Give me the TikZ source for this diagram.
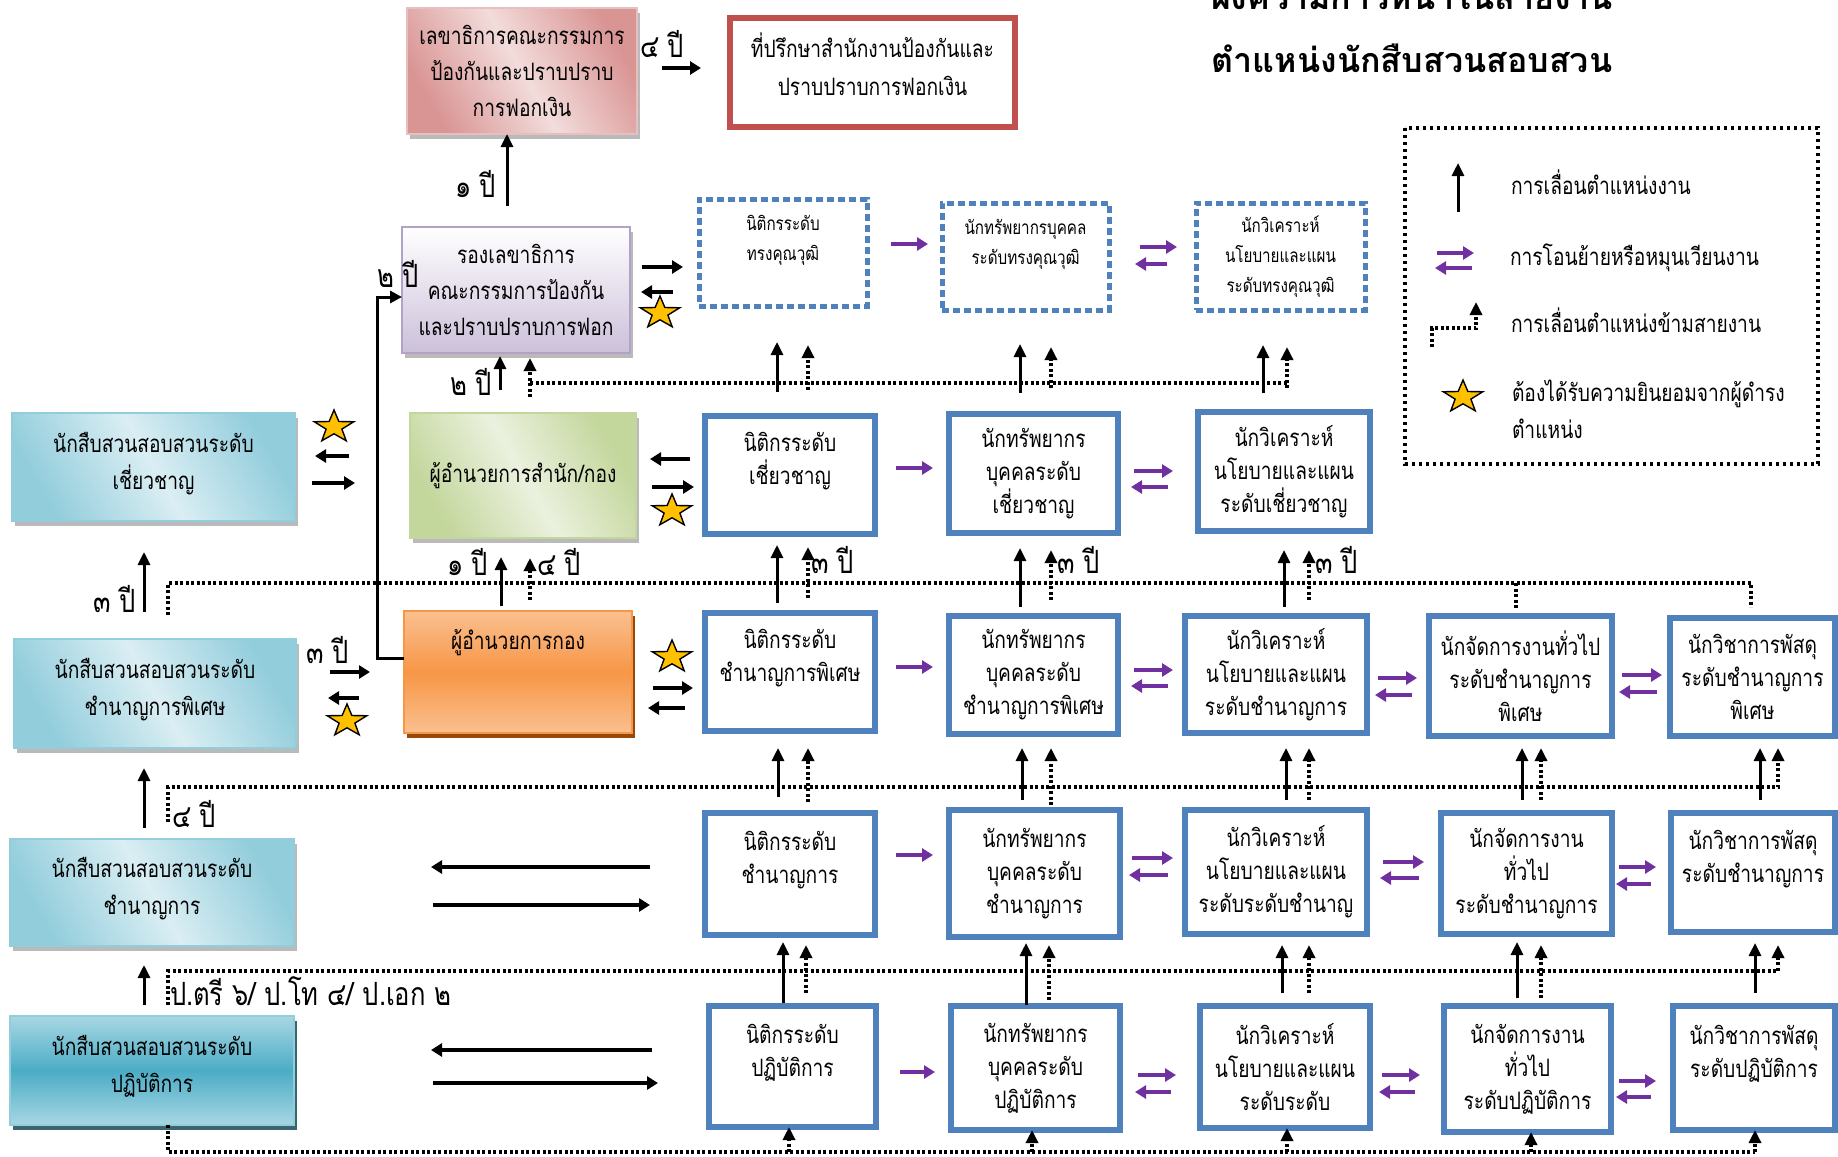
\documentclass[tikz,border=0pt]{standalone}
\usepackage{fontspec}
\usetikzlibrary{arrows.meta,shadows}
\newfontfamily\thaifont[Script=Thai,FakeStretch=0.8]{Loma}
\newfontfamily\thaititle[Script=Thai]{Loma}
\definecolor{cyanD}{HTML}{92CDDC}
\definecolor{cyanL}{HTML}{DAEEF3}
\definecolor{cyanM}{HTML}{4BACC6}
\definecolor{greenD}{HTML}{C3D69B}
\definecolor{greenL}{HTML}{EBF1DE}
\definecolor{pinkD}{HTML}{D99594}
\definecolor{pinkL}{HTML}{F2DCDB}
\definecolor{lavD}{HTML}{CCC0DA}
\definecolor{lavB}{HTML}{B2A2C7}
\definecolor{orD}{HTML}{F79646}
\definecolor{orL}{HTML}{FAC090}
\definecolor{orS}{HTML}{984807}
\definecolor{redB}{HTML}{C0504D}
\definecolor{blueB}{HTML}{4F81BD}
\definecolor{purpA}{HTML}{7030A0}
\definecolor{starY}{HTML}{FFC000}
\newcommand\bx[7]{\node[#1,minimum width={#5-#3},minimum height={#6-#4}] (#2) at ({(#3+#5)/2},{(#4+#6)/2}) {#7};}
\tikzset{
  every node/.style={font=\thaifont\fontsize{24}{33}\selectfont,inner sep=0pt,outer sep=0pt,align=center},
  wide/.style={font=\thaifont\fontsize{24}{36}\selectfont},
  widec/.style={font=\thaifont\fontsize{24}{37}\selectfont},
  shad/.style={drop shadow={shadow xshift=3pt,shadow yshift=-5pt,fill=black!45,opacity=0.6}},
  solidbox/.style={draw=blueB,line width=6pt,fill=white},
  dotbox/.style={draw=blueB,line width=5pt,dash pattern=on 7pt off 4pt,fill=white,font=\thaifont\fontsize{19}{30}\selectfont},
  cyanbox/.style={shad,widec,draw=cyanD,line width=1.5pt,top color=cyanD,bottom color=cyanD,middle color=cyanL,shading angle=-60},
  tealbox/.style={widec,drop shadow={shadow xshift=3pt,shadow yshift=-5pt,fill=cyanM!50!black,opacity=0.9},draw=cyanD,line width=1.5pt,top color=cyanD!80!white,bottom color=cyanD!80!white,middle color=cyanM},
  greenbox/.style={shad,draw=greenD,line width=1.5pt,top color=greenD,bottom color=greenD,middle color=greenL,shading angle=-60},
  pinkbox/.style={shad,wide,draw=pinkD!60,line width=1.5pt,top color=pinkD,bottom color=pinkD,middle color=pinkL,shading angle=-60},
  lavbox/.style={shad,wide,draw=lavB,line width=2pt,top color=white,bottom color=lavD},
  orangebox/.style={drop shadow={shadow xshift=3pt,shadow yshift=-5pt,fill=orS,opacity=1},draw=orD,line width=1.5pt,top color=orL,bottom color=orL,middle color=orD},
  redbox/.style={wide,draw=redB,line width=6pt,fill=white},
  yrs/.style={font=\thaifont\fontsize{32}{36}\selectfont,anchor=base west},
  legtxt/.style={anchor=base west},
  ttl/.style={font=\thaititle\bfseries\fontsize{34}{40}\selectfont,anchor=base},
  promo/.style={line width=3pt,-{Triangle[length=13pt,width=12pt]}},
  xline/.style={line width=3.5pt,dash pattern=on 3pt off 2.5pt},
  xpromo/.style={xline,-{Triangle[length=13pt,width=12pt]}},
  side/.style={line width=4pt,-{Triangle[length=11pt,width=13pt]}},
  rot/.style={side,draw=purpA,fill=purpA},
  longa/.style={line width=3.5pt,-{Triangle[length=11pt,width=13pt]}},
  legline/.style={line width=3.5pt,dash pattern=on 3pt off 4pt},
  gstar/.pic={\draw[fill=starY,line width=1.4pt,line join=miter,xscale=1.22] (270:17)--(306:6.8)--(342:17)--(18:6.8)--(54:17)--(90:6.8)--(126:17)--(162:6.8)--(198:17)--(234:6.8)--cycle;}
}
\begin{document}
\begin{tikzpicture}[x=1pt,y=-1pt]
\clip (0,0) rectangle (1838,1156);
\fill[white] (0,0) rectangle (1838,1156);
% ---------- title ----------
\node[ttl] (t1) at (1412,10) {ผังความก้าวหน้าในสายงาน};
\node[ttl] (t2) at (1412,73) {ตำแหน่งนักสืบสวนสอบสวน};
% ---------- top boxes ----------
\bx{pinkbox}{sec}{407}{8}{637}{134}{เลขาธิการคณะกรรมการ\\ป้องกันและปราบปราบ\\การฟอกเงิน}
\bx{redbox}{adv}{730}{18}{1015}{127}{ที่ปรึกษาสำนักงานป้องกันและ\\[2pt]ปราบปราบการฟอกเงิน\\[-20pt]~}
\bx{lavbox}{dep}{402}{227}{630}{353}{รองเลขาธิการ\\คณะกรรมการป้องกัน\\และปราบปราบการฟอก}
\bx{dotbox}{q1}{699}{199}{867}{306}{นิติกรระดับ\\ทรงคุณวุฒิ\\~}
\bx{dotbox}{q2}{942}{203}{1109}{310}{นักทรัพยากรบุคคล\\ระดับทรงคุณวุฒิ\\~}
\bx{dotbox}{q3}{1196}{203}{1365}{310}{นักวิเคราะห์\\นโยบายและแผน\\ระดับทรงคุณวุฒิ}
% ---------- row 3 ----------
\bx{cyanbox}{inv3}{12}{413}{295}{521}{นักสืบสวนสอบสวนระดับ\\เชี่ยวชาญ\\[-24pt]~}
\bx{greenbox}{dir1}{410}{413}{636}{538}{ผู้อำนวยการสำนัก/กอง}
\bx{solidbox}{n3}{705}{416}{875}{534}{นิติกรระดับ\\เชี่ยวชาญ\\~}
\bx{solidbox}{h3}{949}{414}{1118}{533}{นักทรัพยากร\\บุคคลระดับ\\เชี่ยวชาญ}
\bx{solidbox}{p3}{1198}{412}{1370}{531}{นักวิเคราะห์\\นโยบายและแผน\\ระดับเชี่ยวชาญ}
% ---------- row 4 ----------
\bx{cyanbox}{inv4}{14}{639}{296}{748}{นักสืบสวนสอบสวนระดับ\\ชำนาญการพิเศษ\\[-24pt]~}
\bx{orangebox}{dir2}{404}{611}{632}{733}{ผู้อำนวยการกอง\\~\\~}
\bx{solidbox}{n4}{705}{613}{875}{731}{นิติกรระดับ\\ชำนาญการพิเศษ\\~}
\bx{solidbox}{h4}{949}{616}{1118}{734}{นักทรัพยากร\\บุคคลระดับ\\ชำนาญการพิเศษ}
\bx{solidbox}{p4}{1185}{616}{1367}{733}{นักวิเคราะห์\\นโยบายและแผน\\ระดับชำนาญการ}
\bx{solidbox}{g4}{1429}{616}{1612}{736}{นักจัดการงานทั่วไป\\ระดับชำนาญการ\\พิเศษ}
\bx{solidbox}{s4}{1670}{618}{1835}{736}{นักวิชาการพัสดุ\\ระดับชำนาญการ\\พิเศษ}
% ---------- row 5 ----------
\bx{cyanbox}{inv5}{10}{839}{294}{946}{นักสืบสวนสอบสวนระดับ\\ชำนาญการ\\[-24pt]~}
\bx{solidbox}{n5}{705}{813}{875}{935}{นิติกรระดับ\\ชำนาญการ\\~}
\bx{solidbox}{h5}{949}{810}{1120}{937}{นักทรัพยากร\\บุคคลระดับ\\ชำนาญการ}
\bx{solidbox}{p5}{1185}{810}{1367}{934}{นักวิเคราะห์\\นโยบายและแผน\\ระดับระดับชำนาญ}
\bx{solidbox}{g5}{1441}{813}{1612}{934}{นักจัดการงาน\\ทั่วไป\\ระดับชำนาญการ}
\bx{solidbox}{s5}{1671}{813}{1835}{932}{นักวิชาการพัสดุ\\ระดับชำนาญการ\\~}
% ---------- row 6 ----------
\bx{tealbox}{inv6}{10}{1016}{294}{1125}{นักสืบสวนสอบสวนระดับ\\ปฏิบัติการ\\[-24pt]~}
\bx{solidbox}{n6}{709}{1006}{876}{1127}{นิติกรระดับ\\ปฏิบัติการ\\~}
\bx{solidbox}{h6}{951}{1006}{1120}{1130}{นักทรัพยากร\\บุคคลระดับ\\ปฏิบัติการ}
\bx{solidbox}{p6}{1200}{1006}{1370}{1128}{นักวิเคราะห์\\นโยบายและแผน\\ระดับระดับ}
\bx{solidbox}{g6}{1444}{1006}{1611}{1132}{นักจัดการงาน\\ทั่วไป\\ระดับปฏิบัติการ}
\bx{solidbox}{s6}{1673}{1006}{1835}{1130}{นักวิชาการพัสดุ\\ระดับปฏิบัติการ\\~}
% ---------- top connectors ----------
\draw[promo] (507,206) -- (sec.south -| 507,0);
\node[yrs] (l1) at (455,197) {๑ ปี};
\draw[side] (662,68) -- (701,68);
\node[yrs] (l2) at (640,57) {๔ ปี};
\draw[promo] (500,390) -- (500,356);
\node[yrs] (l3) at (450,395) {๒ ปี};
\draw[xline] (530,383) -- (1287,383);
\draw[xpromo] (530,397) -- (530,358);
\draw[side] (642,267) -- (683,267);
\draw[side] (673,292) -- (641,292);
\pic at (660,313) {gstar};
\draw[line width=3pt,-{Triangle[length=12pt,width=12pt]}] (dir2.west |- 0,658) -- (377,658) -- (377,297) -- (dep.west |- 0,297);
\node[yrs] (l4) at (377,287) {๒ ปี};
\draw[rot] (891,244) -- (928,244);
\draw[rot] (1140,247) -- (1177,247);
\draw[rot] (1167,264) -- (1135,264);
\draw[promo] (777,392) -- (777,342);
\draw[xpromo] (808,390) -- (808,345);
\draw[promo] (1020,393) -- (1020,344);
\draw[xpromo] (1051,388) -- (1051,347);
\draw[promo] (1263,393) -- (1263,345);
\draw[xpromo] (1287,388) -- (1287,347);
% ---------- row 3 side ----------
\pic at (334,427) {gstar};
\draw[side] (349,456) -- (315,456);
\draw[side] (312,483) -- (355,483);
\draw[side] (690,459) -- (650,459);
\draw[side] (652,487) -- (694,487);
\pic at (672,511) {gstar};
\draw[rot] (896,468) -- (933,468);
\draw[rot] (1134,471) -- (1173,471);
\draw[rot] (1168,487) -- (1131,487);
% ---------- between rows 4 and 3 ----------
\draw[promo] (144,612) -- (144,552);
\node[yrs] (l5) at (93,612) {๓ ปี};
\draw[xline] (168,615) -- (168,583) -- (1751,583) -- (1751,607);
\draw[xline] (1516,583) -- (1516,610);
\draw[promo] (501,606) -- (501,557);
\node[yrs] (l6) at (447,575) {๑ ปี};
\draw[xpromo] (530,600) -- (530,558);
\node[yrs] (l7) at (537,575) {๔ ปี};
\draw[promo] (777,603) -- (777,545);
\draw[xpromo] (808,598) -- (808,547);
\node[yrs] (l8) at (811,573) {๓ ปี};
\draw[promo] (1020,607) -- (1020,548);
\draw[xpromo] (1051,600) -- (1051,550);
\node[yrs] (l9) at (1057,573) {๓ ปี};
\draw[promo] (1284,607) -- (1284,550);
\draw[xpromo] (1309,600) -- (1309,550);
\node[yrs] (l10) at (1315,573) {๓ ปี};
% ---------- row 4 side ----------
\draw[side] (330,672) -- (370,672);
\node[yrs] (l11) at (306,663) {๓ ปี};
\draw[side] (359,698) -- (328,698);
\pic at (347,721) {gstar};
\pic at (672,657) {gstar};
\draw[side] (653,688) -- (693,688);
\draw[side] (685,708) -- (648,708);
\draw[rot] (896,667) -- (933,667);
\draw[rot] (1134,670) -- (1173,670);
\draw[rot] (1168,686) -- (1131,686);
\draw[rot] (1378,678) -- (1417,678);
\draw[rot] (1412,695) -- (1375,695);
\draw[rot] (1622,675) -- (1662,675);
\draw[rot] (1657,692) -- (1619,692);
% ---------- between rows 5 and 4 ----------
\draw[promo] (144,828) -- (144,768);
\draw[xpromo] (168,822) -- (168,787) -- (1778,787) -- (1778,748);
\node[yrs] (l12) at (172,827) {๔ ปี};
\draw[promo] (778,797) -- (778,748);
\draw[xpromo] (808,802) -- (808,748);
\draw[promo] (1022,800) -- (1022,748);
\draw[xpromo] (1051,805) -- (1051,748);
\draw[promo] (1286,800) -- (1286,748);
\draw[xpromo] (1309,800) -- (1309,748);
\draw[promo] (1522,800) -- (1522,748);
\draw[xpromo] (1541,800) -- (1541,748);
\draw[promo] (1760,800) -- (1760,748);
% ---------- row 5 side ----------
\draw[longa] (650,867) -- (431,867);
\draw[longa] (433,905) -- (650,905);
\draw[rot] (896,855) -- (933,855);
\draw[rot] (1132,858) -- (1173,858);
\draw[rot] (1168,875) -- (1129,875);
\draw[rot] (1383,862) -- (1424,862);
\draw[rot] (1419,878) -- (1380,878);
\draw[rot] (1619,867) -- (1656,867);
\draw[rot] (1651,884) -- (1616,884);
% ---------- between rows 6 and 5 ----------
\draw[promo] (144,1005) -- (144,965);
\draw[xpromo] (168,1005) -- (168,971) -- (1778,971) -- (1778,945);
\node[yrs] (l13) at (170,1005) {ป.ตรี ๖/ ป.โท ๔/ ป.เอก ๒};
\draw[promo] (783,1003) -- (783,942);
\draw[xpromo] (806,993) -- (806,945);
\draw[promo] (1026,1005) -- (1026,943);
\draw[xpromo] (1049,1000) -- (1049,945);
\draw[promo] (1282,993) -- (1282,945);
\draw[xpromo] (1309,993) -- (1309,945);
\draw[promo] (1517,998) -- (1517,942);
\draw[xpromo] (1541,998) -- (1541,945);
\draw[promo] (1755,993) -- (1755,943);
% ---------- row 6 side ----------
\draw[longa] (652,1050) -- (431,1050);
\draw[longa] (433,1083) -- (658,1083);
\draw[rot] (900,1072) -- (935,1072);
\draw[rot] (1138,1075) -- (1176,1075);
\draw[rot] (1171,1092) -- (1135,1092);
\draw[rot] (1382,1075) -- (1420,1075);
\draw[rot] (1415,1092) -- (1379,1092);
\draw[rot] (1619,1081) -- (1656,1081);
\draw[rot] (1651,1097) -- (1616,1097);
% ---------- bottom line ----------
\draw[xline] (inv6.south -| 168,0) -- (168,1152) -- (1755,1152);
\draw[xpromo] (789,1152) -- (n6.south -| 789,0);
\draw[xpromo] (1032,1152) -- (h6.south -| 1032,0);
\draw[xpromo] (1287,1152) -- (p6.south -| 1287,0);
\draw[xpromo] (1531,1152) -- (g6.south -| 1531,0);
\draw[xpromo] (1755,1152) -- (s6.south -| 1755,0);
% ---------- legend ----------
\draw[legline] (1405,128) rectangle (1818,464);
\draw[promo] (1458,212) -- (1458,163);
\node[legtxt] (g1) at (1511,194) {การเลื่อนตำแหน่งงาน};
\draw[rot] (1437,253) -- (1474,253);
\draw[rot] (1472,268) -- (1435,268);
\node[legtxt] (g2) at (1510,265) {การโอนย้ายหรือหมุนเวียนงาน};
\draw[xpromo] (1432,347) -- (1432,328) -- (1476,328) -- (1476,302);
\node[legtxt] (g3) at (1511,332) {การเลื่อนตำแหน่งข้ามสายงาน};
\pic at (1463,397) {gstar};
\node[legtxt] (g4) at (1512,401) {ต้องได้รับความยินยอมจากผู้ดำรง};
\node[legtxt] (g5) at (1512,438) {ตำแหน่ง};
\end{tikzpicture}
\end{document}
